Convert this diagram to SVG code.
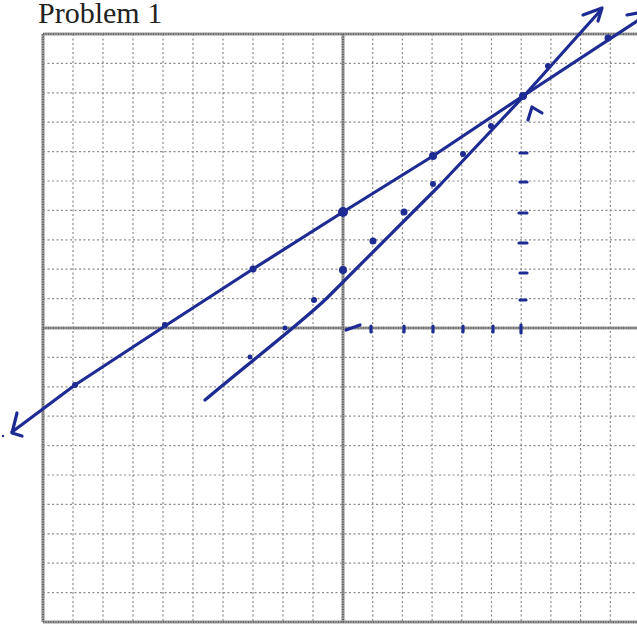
<svg xmlns="http://www.w3.org/2000/svg" width="637" height="624" viewBox="0 0 637 624">
<style>
.g{stroke:#8a8a8a;stroke-width:1.2;stroke-dasharray:2 2.5;fill:none}
.b{stroke:#9a9a9a;stroke-width:3.2;fill:none}
.bd{stroke:#555;stroke-width:1.6;stroke-dasharray:1 1.5;fill:none}
.ink{stroke:#1d2b92;stroke-width:3.2;fill:none;stroke-linecap:round;stroke-linejoin:round}
.dot{fill:#1d2b92}
</style>
<rect width="637" height="624" fill="#fff"/>
<text x="38" y="23" font-family="Liberation Serif, serif" font-size="30" fill="#222">Problem 1</text>
<g id="grid">
<path class="g" d="M73,34V622M103,34V622M133,34V622M163,34V622M193,34V622M223,34V622M253,34V622M283,34V622M313,34V622M372.7,34V622M402.4,34V622M432.1,34V622M461.8,34V622M491.5,34V622M521.2,34V622M550.9,34V622M580.6,34V622M610.3,34V622"/>
<path class="g" d="M43,63.4H637M43,92.8H637M43,122.2H637M43,151.6H637M43,181H637M43,210.4H637M43,239.8H637M43,269.2H637M43,298.6H637M43,357.4H637M43,386.8H637M43,416.2H637M43,445.6H637M43,475H637M43,504.4H637M43,533.8H637M43,563.2H637M43,592.6H637"/>
<path class="b" d="M43,34V622M343,34V622M43,34H637M43,328H637M43,622H637"/>
<path class="bd" d="M43,34V622M343,34V622M43,34H637M43,328H637M43,622H637"/>
</g>
<g id="line1">
<path class="ink" d="M12,432 L75,385 L165,326 L253,269 L343,212 L433,156 L523,96 L637,21"/>
<path class="ink" d="M17,413 L12,433 L22,436"/>
<path class="ink" d="M627,15 L637,13"/>
<circle class="dot" cx="3" cy="436" r="1.2"/>
</g>
<g id="line2">
<path class="ink" d="M205,400 C245,366 300,324 327,298 L440,185 L523,97 L600,11"/>
<path class="ink" d="M583,15 L602,8 L598,21"/>
</g>
<g id="dots">
<circle class="dot" cx="75" cy="385" r="3"/>
<circle class="dot" cx="165" cy="325" r="3"/>
<circle class="dot" cx="253" cy="269" r="3.5"/>
<circle class="dot" cx="343" cy="212" r="5"/>
<circle class="dot" cx="433" cy="156" r="4"/>
<circle class="dot" cx="523" cy="96" r="4"/>
<circle class="dot" cx="608" cy="38" r="3.5"/>
<circle class="dot" cx="250" cy="357" r="2.5"/>
<circle class="dot" cx="285" cy="328" r="2.5"/>
<circle class="dot" cx="314" cy="300" r="3"/>
<circle class="dot" cx="343" cy="270" r="4"/>
<circle class="dot" cx="373" cy="241" r="3.5"/>
<circle class="dot" cx="404" cy="212" r="3.5"/>
<circle class="dot" cx="433" cy="184" r="3"/>
<circle class="dot" cx="463" cy="154" r="3"/>
<circle class="dot" cx="491" cy="126" r="3"/>
<circle class="dot" cx="548" cy="66" r="3"/>
</g>
<g id="guides">
<path class="ink" d="M346,330 L360,325"/>
<path class="ink" stroke-width="4" d="M371,326V332M404,326V332M433,326V332M463,326V332M493,326V332M521,325V333"/>
<path class="ink" stroke-width="4" d="M520,153H527M520,182H527M519,213H527M519,243H527M520,273H527M520,300H526"/>
<path class="ink" d="M528,120 L532,107 L542,113"/>
</g>
</svg>
